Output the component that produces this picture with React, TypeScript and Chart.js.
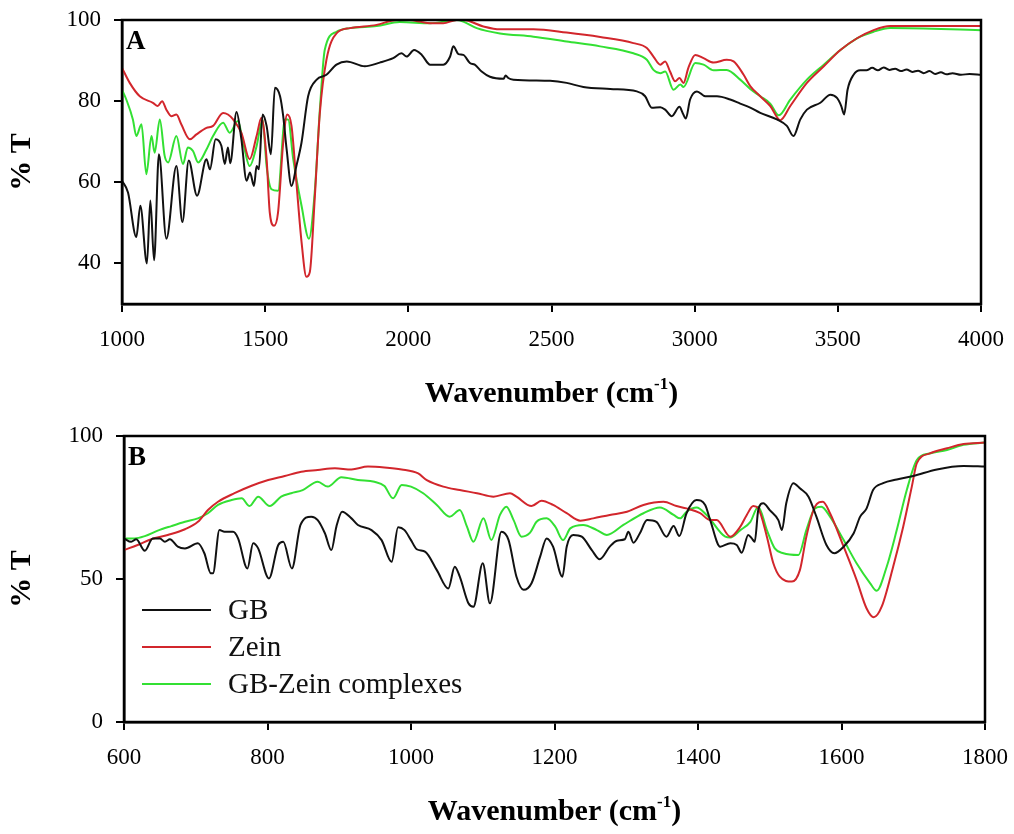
import React, { useEffect, useRef } from "react";
import { Chart, registerables } from "chart.js";
Chart.register(...registerables);

const SERIES_NAMES = ["GB", "Zein", "GB-Zein complexes"];
const SERIES_COLORS = ["#111111", "#d2262c", "#33e033"];

// ---------- Panel A (1000-4000 cm-1) ----------
const xTicksA = [1000, 1500, 2000, 2500, 3000, 3500, 4000];
const yTicksA = [40, 60, 80, 100];

const gbA_x = [1000, 1021, 1050, 1064, 1087, 1099, 1112, 1129, 1155, 1190, 1211, 1233, 1262, 1295, 1307, 1327, 1347, 1359, 1370, 1378, 1400, 1417, 1435, 1447, 1461, 1470, 1478, 1491, 1505, 1520, 1534, 1552, 1563, 1575, 1592, 1609, 1627, 1650, 1680, 1714, 1749, 1785, 1848, 1900, 1947, 1976, 1994, 2020, 2047, 2076, 2122, 2146, 2157, 2175, 2192, 2215, 2232, 2256, 2285, 2332, 2340, 2349, 2367, 2495, 2553, 2611, 2705, 2798, 2827, 2850, 2880, 2897, 2920, 2947, 2958, 2969, 2984, 3008, 3037, 3078, 3124, 3159, 3194, 3229, 3287, 3322, 3345, 3369, 3392, 3439, 3474, 3497, 3512, 3522, 3534, 3555, 3578, 3600, 3620, 3640, 3660, 3680, 3700, 3720, 3740, 3760, 3780, 3800, 3820, 3840, 3860, 3880, 3900, 3930, 3960, 4000];
const gbA_y = [60.4, 57.5, 46.5, 54.2, 40, 55.5, 40.8, 66.9, 46.1, 64, 50.2, 65.4, 56.7, 65.7, 63.2, 70.6, 69, 64.5, 68.6, 64.7, 77.3, 70.6, 60.4, 62.4, 59.1, 64, 63.2, 76.7, 73.9, 66.9, 83.3, 81.2, 76.3, 68.1, 59.1, 64, 69.8, 81.2, 85.3, 86.5, 89, 89.8, 88.6, 89.5, 90.6, 91.8, 91, 92.6, 91.4, 89, 89, 91, 93.5, 91.6, 91.4, 89.4, 89, 87.3, 86, 85.5, 86.3, 85.7, 85.3, 85, 84.5, 83.5, 83, 82.4, 81.2, 78.4, 78.5, 77.9, 76.3, 78.6, 77.1, 75.7, 80.4, 82.4, 81.2, 81.2, 80.4, 79.4, 78.4, 77.1, 75.5, 73.9, 71.4, 75.5, 77.9, 79.6, 81.6, 80.8, 78.8, 76.7, 82.8, 86.5, 87.6, 87.6, 88.2, 87.6, 88.3, 87.7, 88.0, 87.4, 87.8, 87.2, 87.5, 86.9, 87.4, 86.7, 87.1, 86.6, 86.9, 86.5, 86.7, 86.5];

const zeinA_x = [1000, 1027, 1062, 1108, 1125, 1140, 1155, 1172, 1190, 1207, 1237, 1260, 1295, 1318, 1353, 1370, 1388, 1417, 1446, 1470, 1487, 1505, 1516, 1531, 1545, 1563, 1577, 1592, 1609, 1627, 1644, 1656, 1673, 1691, 1714, 1749, 1796, 1889, 1959, 2006, 2040, 2076, 2122, 2169, 2192, 2262, 2320, 2437, 2553, 2670, 2786, 2833, 2856, 2880, 2897, 2914, 2932, 2947, 2961, 2978, 3002, 3031, 3066, 3112, 3136, 3171, 3194, 3229, 3264, 3299, 3334, 3392, 3451, 3509, 3567, 3625, 3683, 4000];
const zeinA_y = [88.2, 84.5, 81.2, 79.6, 78.8, 80, 77.9, 76.3, 76.7, 74.3, 70.6, 71.8, 73.4, 73.9, 77.1, 76.7, 75.5, 72.2, 65.7, 71.4, 75.9, 65.7, 52.6, 49.3, 52.6, 69.8, 76.7, 73.9, 60, 45.3, 36.7, 37.9, 55.9, 77.1, 90.2, 96.7, 98, 98.8, 100, 100, 99.6, 99.2, 99.2, 100, 100, 98.4, 97.7, 97.7, 96.9, 95.8, 94.3, 93.1, 91, 89, 89.8, 87.3, 84.9, 85.7, 84.5, 88.2, 91.4, 90.6, 89.5, 90.2, 89.8, 86.5, 83.7, 81.2, 78.8, 75.3, 78.8, 84.5, 88.6, 92.6, 95.5, 97.5, 98.5, 98.5];

const complexA_x = [1000, 1015, 1038, 1050, 1068, 1085, 1103, 1114, 1132, 1149, 1161, 1190, 1213, 1230, 1248, 1266, 1295, 1318, 1353, 1376, 1405, 1423, 1446, 1470, 1491, 1505, 1522, 1545, 1569, 1580, 1598, 1627, 1653, 1673, 1691, 1708, 1749, 1796, 1889, 1970, 2076, 2169, 2192, 2239, 2320, 2437, 2553, 2670, 2786, 2833, 2856, 2880, 2897, 2926, 2950, 2961, 3002, 3031, 3066, 3112, 3159, 3194, 3229, 3264, 3294, 3334, 3392, 3451, 3509, 3567, 3625, 3683, 4000];
const complexA_y = [82.8, 80.4, 75.5, 71.4, 74.3, 62, 71.4, 67.3, 75.5, 66.5, 64.9, 71.4, 64.5, 68.6, 67.7, 64.9, 68.1, 71.4, 74.7, 72.2, 75.1, 69.8, 64, 68.9, 75.5, 64, 58.3, 57.9, 75.5, 75.5, 65.7, 54.2, 46.1, 57.5, 77.9, 92.6, 97.1, 98, 98.5, 99.5, 99.2, 100, 99.6, 98, 96.7, 95.9, 94.7, 93.5, 91.8, 90.2, 87.7, 86.9, 87.3, 82.8, 84.1, 83.5, 89.4, 89, 87.6, 87.7, 85.3, 83, 81.2, 79.4, 76.5, 80.4, 85.3, 89, 92.6, 95.5, 97.1, 98, 97.5];

// ---------- Panel B (600-1800 cm-1) ----------
const xTicksB = [600, 800, 1000, 1200, 1400, 1600, 1800];
const yTicksB = [0, 50, 100];

const gbB_x = [600, 610, 617, 629, 640, 650, 657, 664, 675, 685, 703, 712, 721, 724, 733, 740, 752, 759, 772, 780, 787, 802, 815, 822, 834, 846, 861, 870, 880, 889, 896, 904, 917, 926, 945, 959, 973, 982, 991, 1000, 1008, 1020, 1036, 1052, 1061, 1068, 1080, 1087, 1100, 1110, 1126, 1136, 1147, 1157, 1168, 1180, 1189, 1198, 1211, 1217, 1226, 1238, 1252, 1263, 1277, 1287, 1298, 1303, 1310, 1319, 1329, 1342, 1356, 1366, 1374, 1384, 1398, 1410, 1417, 1431, 1445, 1454, 1461, 1470, 1475, 1479, 1484, 1491, 1500, 1512, 1517, 1523, 1533, 1542, 1554, 1565, 1579, 1590, 1603, 1617, 1626, 1635, 1644, 1658, 1677, 1700, 1733, 1770, 1800];
const gbB_y = [64.2, 63, 63.9, 59.9, 64.2, 64.2, 63, 63.9, 61.3, 60.7, 62.5, 59, 52, 52, 67.1, 66.5, 66.5, 64.2, 53.7, 62.5, 60.7, 50.2, 61.9, 63, 53.7, 68.9, 71.8, 70.6, 66, 60.1, 68.3, 73.5, 71.2, 68.9, 67.1, 63.6, 56, 68.1, 67.1, 63.6, 60.4, 59.5, 53.1, 46.7, 54.3, 50.8, 41.5, 40.3, 55.5, 41.5, 66.5, 63.6, 50.8, 46.2, 48.5, 57.8, 64.2, 61.3, 50.8, 61.3, 65.4, 64.8, 60.1, 56.9, 61.3, 63.4, 63.9, 66.5, 62.7, 66, 70.6, 70, 64.8, 68.5, 65, 73, 77.6, 75.9, 70.6, 61.3, 62.5, 61.9, 59.2, 65.4, 64.2, 63, 74.1, 76.5, 74.1, 70.6, 67.1, 76.5, 83.5, 81.7, 78.8, 71.8, 61.9, 59, 61.3, 66, 71.8, 74.7, 81.1, 83.5, 84.8, 86, 88.3, 89.5, 89.3];

const zeinB_x = [600, 619, 638, 661, 685, 703, 717, 731, 754, 777, 801, 824, 847, 870, 894, 917, 940, 963, 987, 1010, 1022, 1045, 1068, 1092, 1115, 1138, 1147, 1168, 1182, 1198, 1217, 1236, 1254, 1277, 1301, 1324, 1352, 1370, 1384, 1403, 1417, 1426, 1445, 1459, 1468, 1477, 1484, 1496, 1505, 1514, 1531, 1542, 1551, 1563, 1574, 1584, 1603, 1621, 1635, 1645, 1656, 1672, 1686, 1698, 1705, 1723, 1747, 1770, 1800];
const zeinB_y = [60.1, 61.9, 63.9, 65.4, 67.4, 70, 74.1, 77, 80, 82.5, 84.6, 86, 87.5, 88.1, 88.7, 88.3, 89.3, 89, 88.3, 86.9, 84.6, 82.3, 81.1, 80, 78.8, 80, 78.8, 75.5, 77.4, 75.9, 73, 70.4, 71.2, 72.4, 73.5, 75.9, 77, 75.5, 74.7, 73, 70.6, 70.6, 64.8, 68.3, 72.4, 75.5, 74.7, 64.8, 55.5, 50.8, 49.1, 53.1, 64.8, 75.3, 77, 73, 61.3, 49.7, 39.7, 36.6, 40.3, 54.3, 68.3, 82.3, 90.5, 93.9, 95.7, 97.2, 97.7];

const complexB_x = [600, 615, 629, 647, 666, 685, 703, 717, 731, 750, 764, 775, 787, 803, 819, 833, 849, 870, 884, 903, 926, 949, 963, 975, 987, 1000, 1017, 1036, 1054, 1068, 1078, 1087, 1101, 1112, 1124, 1133, 1143, 1154, 1166, 1175, 1189, 1201, 1212, 1222, 1240, 1259, 1273, 1296, 1324, 1347, 1366, 1375, 1384, 1398, 1412, 1438, 1445, 1459, 1473, 1484, 1496, 1507, 1519, 1540, 1551, 1563, 1572, 1584, 1603, 1621, 1640, 1649, 1663, 1677, 1691, 1705, 1723, 1747, 1770, 1800];
const complexB_y = [64.2, 64.2, 65, 66.9, 68.5, 70, 71.2, 73, 75.9, 77.6, 78.2, 75.5, 78.8, 75.5, 78.8, 80, 81.1, 84, 82.3, 85.6, 84.6, 84, 82.5, 78.2, 82.9, 82.3, 80, 75.9, 71.8, 74.1, 68.3, 63, 71.2, 63.6, 72.4, 75.3, 70.6, 64.8, 66.2, 70, 71.2, 68.3, 63.6, 67.7, 68.9, 67.1, 65.4, 68.9, 73, 75, 72.4, 71.2, 73.5, 75, 72.4, 64.8, 64.5, 67.1, 70, 75.3, 67.1, 60.7, 59, 58.4, 67.1, 74.7, 75.3, 71.8, 63.6, 55.5, 48.5, 45.9, 54.3, 67.1, 81.1, 91.6, 93.9, 95.1, 96.9, 97.7];

const FONT = '"Liberation Serif", "Times New Roman", serif';

function pts(xs: number[], ys: number[]) {
  return xs.map((x, i) => ({ x, y: ys[i] }));
}

function makeDecor(letter: string, withLegend: boolean) {
  return {
    id: "decor" + letter,
    afterDraw(chart: any) {
      const { ctx, chartArea } = chart;
      const { left, right, top, bottom } = chartArea;
      ctx.save();
      // frame
      ctx.strokeStyle = "#000";
      ctx.lineWidth = 2.5;
      ctx.strokeRect(left, top, right - left, bottom - top);
      // panel letter
      ctx.fillStyle = "#000";
      ctx.font = `bold 27px ${FONT}`;
      ctx.textAlign = "left";
      ctx.textBaseline = "alphabetic";
      ctx.fillText(letter, left + 4, top + 29);
      // x title with superscript
      const cx = (left + right) / 2;
      const baseY = bottom + 98;
      const main = "Wavenumber (cm";
      const sup = "-1";
      const end = ")";
      ctx.font = `bold 30px ${FONT}`;
      const wMain = ctx.measureText(main).width;
      const wEnd = ctx.measureText(end).width;
      ctx.font = `bold 17px ${FONT}`;
      const wSup = ctx.measureText(sup).width;
      const x0 = cx - (wMain + wSup + wEnd) / 2;
      ctx.font = `bold 30px ${FONT}`;
      ctx.fillText(main, x0, baseY);
      ctx.font = `bold 17px ${FONT}`;
      ctx.fillText(sup, x0 + wMain, baseY - 13);
      ctx.font = `bold 30px ${FONT}`;
      ctx.fillText(end, x0 + wMain + wSup, baseY);
      if (withLegend) {
        const rows = [193, 230, 267];
        chart.data.datasets.forEach((ds: any, i: number) => {
          ctx.strokeStyle = ds.borderColor;
          ctx.lineWidth = 2;
          ctx.beginPath();
          ctx.moveTo(142, rows[i]);
          ctx.lineTo(211, rows[i]);
          ctx.stroke();
          ctx.fillStyle = "#111";
          ctx.font = `29px ${FONT}`;
          ctx.textBaseline = "middle";
          ctx.fillText(ds.label, 228, rows[i] + 1);
        });
      }
      ctx.restore();
    },
  };
}

function buildConfig(opts: {
  series: { x: number[]; y: number[] }[];
  xMin: number; xMax: number; xTicks: number[];
  yMin: number; yMax: number; yTicks: number[];
  padTop: number; padRight: number; xHeight: number; yWidth: number;
  letter: string; legend: boolean;
}): any {
  return {
    type: "line",
    data: {
      datasets: opts.series.map((s, i) => ({
        label: SERIES_NAMES[i],
        data: pts(s.x, s.y),
        borderColor: SERIES_COLORS[i],
        borderWidth: 2,
        pointRadius: 0,
        fill: false,
        cubicInterpolationMode: "monotone",
      })),
    },
    options: {
      animation: false,
      responsive: false,
      devicePixelRatio: 1,
      layout: { padding: { left: 0, right: opts.padRight, top: opts.padTop, bottom: 0 } },
      plugins: { legend: { display: false }, tooltip: { enabled: false } },
      scales: {
        x: {
          type: "linear",
          min: opts.xMin,
          max: opts.xMax,
          afterBuildTicks: (s: any) => { s.ticks = opts.xTicks.map((v) => ({ value: v })); },
          afterFit: (s: any) => {
            s.height = opts.xHeight;
            s.paddingLeft = 0; s.paddingRight = 0; s.paddingTop = 0; s.paddingBottom = 0;
          },
          ticks: {
            color: "#000", font: { family: FONT, size: 23 }, padding: 14, maxRotation: 0, autoSkip: false,
            callback: (v: any) => String(v),
          },
          grid: { drawOnChartArea: false, drawTicks: true, tickLength: 8, color: "#000", lineWidth: 2 },
          border: { display: true, color: "#000", width: 2.5 },
        },
        y: {
          type: "linear",
          min: opts.yMin,
          max: opts.yMax,
          afterBuildTicks: (s: any) => { s.ticks = opts.yTicks.map((v) => ({ value: v })); },
          afterFit: (s: any) => {
            s.width = opts.yWidth;
            s.paddingLeft = 0; s.paddingRight = 0; s.paddingTop = 0; s.paddingBottom = 0;
          },
          ticks: { color: "#000", font: { family: FONT, size: 23 }, padding: 13, callback: (v: any) => String(v) },
          grid: { drawOnChartArea: false, drawTicks: true, tickLength: 8, color: "#000", lineWidth: 2 },
          border: { display: true, color: "#000", width: 2.5 },
          title: { display: true, text: "% T", color: "#000", font: { family: FONT, size: 30, weight: "bold" }, padding: { top: 4, bottom: 0 } },
        },
      },
    },
    plugins: [makeDecor(opts.letter, opts.legend)],
  };
}

function Panel(props: { config: any; top: number }) {
  const ref = useRef<HTMLCanvasElement | null>(null);
  useEffect(() => {
    if (!ref.current) return;
    const chart = new Chart(ref.current, props.config);
    return () => chart.destroy();
  }, []);
  return (
    <canvas
      ref={ref}
      width={1014}
      height={417}
      style={{ position: "absolute", left: 0, top: props.top, width: 1014, height: 417 }}
    />
  );
}

export default function App() {
  const cfgA = buildConfig({
    series: [
      { x: gbA_x, y: gbA_y },
      { x: zeinA_x, y: zeinA_y },
      { x: complexA_x, y: complexA_y },
    ],
    xMin: 1000, xMax: 4000, xTicks: xTicksA,
    yMin: 30, yMax: 100, yTicks: yTicksA,
    padTop: 20, padRight: 33, xHeight: 113, yWidth: 122,
    letter: "A", legend: false,
  });
  const cfgB = buildConfig({
    series: [
      { x: gbB_x, y: gbB_y },
      { x: zeinB_x, y: zeinB_y },
      { x: complexB_x, y: complexB_y },
    ],
    xMin: 600, xMax: 1800, xTicks: xTicksB,
    yMin: 0, yMax: 100, yTicks: yTicksB,
    padTop: 19, padRight: 29, xHeight: 112, yWidth: 124,
    letter: "B", legend: true,
  });
  return (
    <div style={{ position: "absolute", left: 0, top: 0, width: 1014, height: 834, background: "#fff" }}>
      <Panel config={cfgA} top={0} />
      <Panel config={cfgB} top={417} />
    </div>
  );
}
